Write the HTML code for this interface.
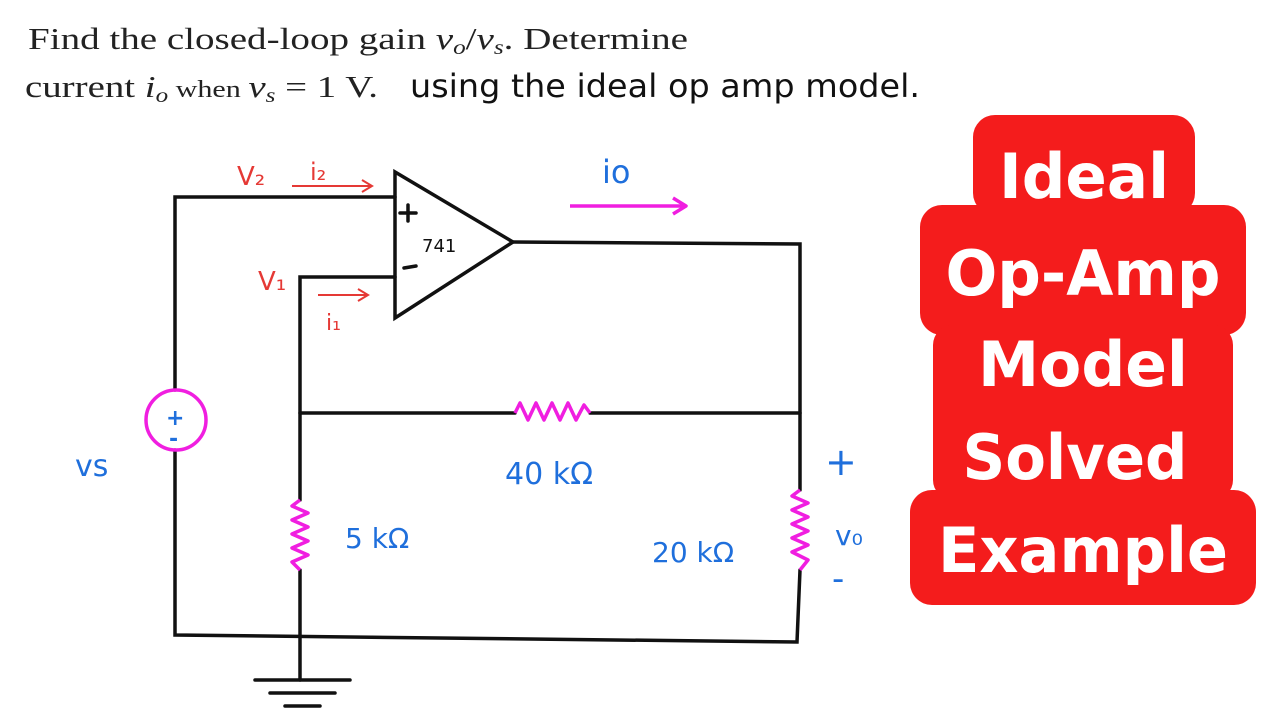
<!DOCTYPE html>
<html><head><style>
html,body{margin:0;padding:0;background:#fff;width:1280px;height:720px;overflow:hidden}
.ser{font-family:"Liberation Serif",serif}
.san{font-family:"DejaVu Sans",sans-serif}
</style></head><body>
<svg width="1280" height="720" viewBox="0 0 1280 720" xmlns="http://www.w3.org/2000/svg">
<rect width="1280" height="720" fill="#fff"/>
<g class="ser" font-size="31" fill="#222">
<text x="28" y="49" textLength="660" lengthAdjust="spacingAndGlyphs">Find the closed-loop gain <tspan font-style="italic">v</tspan><tspan font-style="italic" font-size="20" dy="5">o</tspan><tspan dy="-5">/</tspan><tspan font-style="italic">v</tspan><tspan font-style="italic" font-size="20" dy="5">s</tspan><tspan dy="-5">. Determine</tspan></text>
<text x="25" y="97" textLength="353" lengthAdjust="spacingAndGlyphs">current <tspan font-style="italic">i</tspan><tspan font-style="italic" font-size="20" dy="5">o</tspan><tspan dy="-5" font-size="24"> when </tspan><tspan font-style="italic">v</tspan><tspan font-style="italic" font-size="20" dy="5">s</tspan><tspan dy="-5"> = 1 V.</tspan></text>
</g>
<text x="410" y="97" class="san" font-size="32" fill="#111" textLength="510" lengthAdjust="spacingAndGlyphs">using the ideal op amp model.</text>

<g fill="#f41c1c">
<rect x="973" y="115" width="222" height="100" rx="22"/>
<rect x="920" y="205" width="326" height="130" rx="22"/>
<rect x="933" y="325" width="300" height="175" rx="20"/>
<rect x="910" y="490" width="346" height="115" rx="22"/>
</g>
<g class="san" font-weight="bold" font-size="62" fill="#fff" text-anchor="middle">
<text x="1084" y="198" textLength="170" lengthAdjust="spacingAndGlyphs">Ideal</text>
<text x="1083" y="295" textLength="275" lengthAdjust="spacingAndGlyphs">Op-Amp</text>
<text x="1083" y="386" textLength="210" lengthAdjust="spacingAndGlyphs">Model</text>
<text x="1075" y="479" textLength="225" lengthAdjust="spacingAndGlyphs">Solved</text>
<text x="1083" y="572" textLength="290" lengthAdjust="spacingAndGlyphs">Example</text>
</g>

<g stroke="#111" stroke-width="3.5" fill="none" stroke-linecap="round">
<polyline points="395,197 175,197 175,390"/>
<polyline points="175,450 175,635 797,642 800,570"/>
<polygon points="395,172 395,318 513,242"/>
<polyline points="513,242 800,244 800,490"/>
<polyline points="395,277 300,277 300,500"/>
<line x1="300" y1="570" x2="300" y2="680"/>
<polyline points="300,413 515,413"/>
<polyline points="590,413 800,413"/>
<line x1="255" y1="680" x2="350" y2="680"/>
<line x1="270" y1="693" x2="335" y2="693"/>
<line x1="285" y1="706" x2="320" y2="706"/>
<line x1="400" y1="213" x2="416" y2="213"/><line x1="408" y1="205" x2="408" y2="221"/>
<line x1="404" y1="268" x2="416" y2="266"/>
</g>
<text x="422" y="252" class="san" font-size="18" fill="#111">741</text>

<g stroke="#f01ee0" stroke-width="3.5" fill="none" stroke-linejoin="round">
<circle cx="176" cy="420" r="30"/>
<polyline points="515,413 520,403 528,420 536,403 544,420 552,403 560,420 568,403 576,420 584,405 590,413"/>
<polyline points="300,500 292,506 308,513 292,520 308,527 292,534 308,541 292,548 308,555 292,562 300,570"/>
<polyline points="800,490 792,496 808,503 792,510 808,517 792,524 808,531 792,538 808,545 792,552 808,560 800,570"/>
<line x1="570" y1="206" x2="685" y2="206"/>
<polyline points="673,198 686,206 673,214"/>
</g>

<g class="san" fill="#1f6fdc">
<text x="166" y="425" font-size="22" font-weight="bold">+</text>
<text x="169" y="446" font-size="22" font-weight="bold">-</text>
<text x="75" y="476" font-size="30">vs</text>
<text x="602" y="183" font-size="32">io</text>
<text x="505" y="484" font-size="30">40 kΩ</text>
<text x="345" y="548" font-size="28">5 kΩ</text>
<text x="652" y="562" font-size="28">20 kΩ</text>
<text x="825" y="475" font-size="38">+</text>
<text x="835" y="545" font-size="28">v₀</text>
<text x="832" y="590" font-size="34">-</text>
</g>

<g class="san" fill="#e53935">
<text x="237" y="185" font-size="26">V₂</text>
<text x="310" y="180" font-size="24">i₂</text>
<text x="258" y="290" font-size="26">V₁</text>
<text x="326" y="330" font-size="22">i₁</text>
</g>
<g stroke="#e53935" stroke-width="2" fill="none">
<line x1="292" y1="186" x2="372" y2="186"/><polyline points="362,180 372,186 362,192"/>
<line x1="318" y1="295" x2="368" y2="295"/><polyline points="358,289 368,295 358,301"/>
</g>
</svg>
</body></html>
